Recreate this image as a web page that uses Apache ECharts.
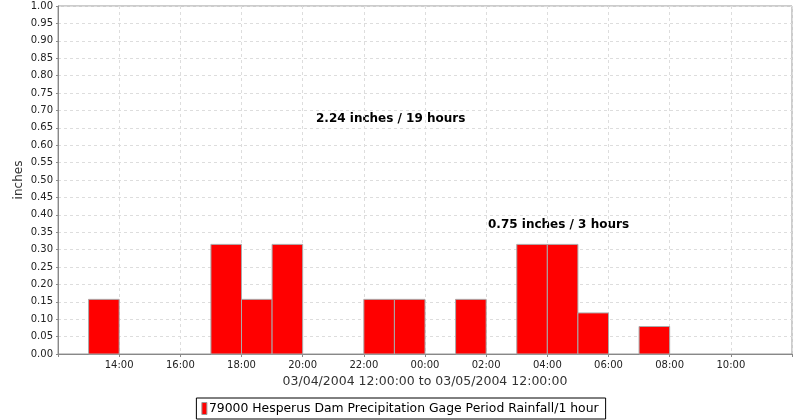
<!DOCTYPE html>
<html>
<head>
<meta charset="utf-8">
<script src="https://cdn.jsdelivr.net/npm/echarts@6/dist/echarts.min.js"></script>
<style>html,body{margin:0;padding:0;background:#fff}#c{width:800px;height:420px}</style>
</head>
<body>
<div id="c"></div>
<script>
// Hourly period start times (03/04/2004 12:00 -> 03/05/2004 12:00)
const periodStart = ['13:00','17:00','18:00','19:00','22:00','23:00','01:00','03:00','04:00','05:00','07:00'];
// Rainfall per 1-hour period (inches)
const rainfall = [0.157,0.315,0.157,0.315,0.157,0.157,0.157,0.315,0.315,0.118,0.079];
const yTicks = {min:0, max:1, step:0.05};
const seriesName = '79000 Hesperus Dam Precipitation Gage Period Rainfall/1 hour';
const xTitle = '03/04/2004 12:00:00 to 03/05/2004 12:00:00';
const notes = ['2.24 inches / 19 hours', '0.75 inches / 3 hours'];

function toOffset(t){ const h = parseInt(t.split(':')[0],10); return h >= 12 ? h - 12 : h + 12; }
const data = periodStart.map((t,i)=>[toOffset(t), toOffset(t)+1, rainfall[i]]);
const FONT = 'DejaVu Sans';
const chart = echarts.init(document.getElementById('c'), null, {renderer:'canvas'});
chart.setOption({
  animation:false,
  backgroundColor:'#fff',
  grid:{left:58, right:8, top:6, bottom:66, show:true, borderColor:'#999', borderWidth:1, backgroundColor:'#fff'},
  xAxis:{
    type:'value', min:0, max:24, interval:2,
    name:xTitle, nameLocation:'middle', nameGap:20,
    nameTextStyle:{fontFamily:FONT, fontSize:12.5, color:'#333'},
    axisLine:{show:true, lineStyle:{color:'#888'}},
    axisTick:{show:true, length:3, lineStyle:{color:'#888'}},
    axisLabel:{fontFamily:FONT, fontSize:10, color:'#222', margin:6,
      formatter:v=> (v<=0||v>=24)?'':(String((v+12)%24).padStart(2,'0')+':00')},
    splitLine:{show:true, lineStyle:{color:'#ddd', type:[3,3]}}
  },
  yAxis:{
    type:'value', min:yTicks.min, max:yTicks.max, interval:yTicks.step,
    name:'inches', nameLocation:'middle', nameGap:33, nameMoveOverlap:false,
    nameTextStyle:{fontFamily:FONT, fontSize:12, color:'#333'},
    axisLine:{show:true, lineStyle:{color:'#888'}},
    axisTick:{show:true, length:2, lineStyle:{color:'#888'}},
    axisLabel:{fontFamily:FONT, fontSize:10, color:'#222', margin:5, formatter:v=>v.toFixed(2)},
    splitLine:{show:true, lineStyle:{color:'#ddd', type:[3,3]}}
  },
  legend:{
    bottom:1, left:'center', icon:'rect', itemWidth:5, itemHeight:12, itemGap:4,
    padding:[4,7,4,5], borderColor:'#000', borderWidth:1,
    textStyle:{fontFamily:FONT, fontSize:12.4, color:'#000', padding:[0,0,0,-3]},
    itemStyle:{borderColor:'#999', borderWidth:1},
    data:[seriesName]
  },
  graphic:[
    {type:'text', left:316, top:113, style:{text:notes[0], font:'bold 12px "DejaVu Sans"', fill:'#000'}},
    {type:'text', left:488, top:219, style:{text:notes[1], font:'bold 12px "DejaVu Sans"', fill:'#000'}}
  ],
  series:[{
    name:seriesName, type:'custom',
    itemStyle:{color:'#ff0000'},
    encode:{x:[0,1], y:2},
    renderItem:(params, api)=>{
      const p0 = api.coord([api.value(0), api.value(2)]);
      const p1 = api.coord([api.value(1), 0]);
      return {type:'rect', shape:{x:p0[0], y:p0[1], width:p1[0]-p0[0], height:p1[1]-p0[1]},
        style:{fill:'#ff0000', stroke:'#aaa', lineWidth:1}};
    },
    data:data
  }]
});
</script>
</body>
</html>
